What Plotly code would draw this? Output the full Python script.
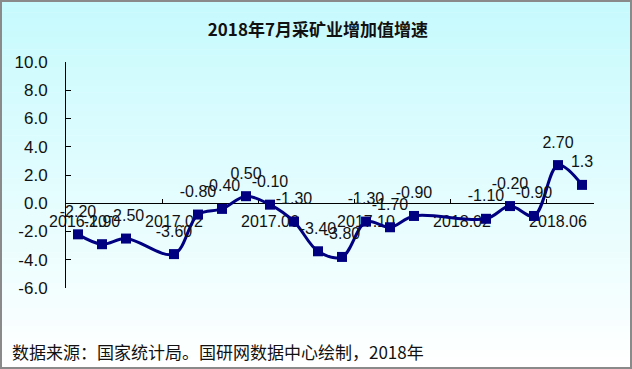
import plotly.graph_objects as go

# ---- data ----
months = ["2016.10", "2016.11", "2016.12", "2017.01", "2017.02", "2017.03", "2017.04",
          "2017.05", "2017.06", "2017.07", "2017.08", "2017.09", "2017.10", "2017.11",
          "2017.12", "2018.01", "2018.02", "2018.03", "2018.04", "2018.05", "2018.06",
          "2018.07"]
growth = [-2.2, -2.9, -2.5, None, -3.6, -0.8, -0.4, 0.5, -0.1, -1.3, -3.4, -3.8, -1.3,
          -1.7, -0.9, None, None, -1.1, -0.2, -0.9, 2.7, 1.3]
value_labels = ["-2.20", "-2.90", "-2.50", "", "-3.60", "-0.80", "-0.40", "0.50", "-0.10",
                "-1.30", "-3.40", "-3.80", "-1.30", "-1.70", "-0.90", "", "", "-1.10",
                "-0.20", "-0.90", "2.70", "1.3"]
y_ticks = [-6, -4, -2, 0, 2, 4, 6, 8, 10]
y_tick_text = ["-6.0", "-4.0", "-2.0", "0.0", "2.0", "4.0", "6.0", "8.0", "10.0"]
title_text = "2018年7月采矿业增加值增速"
source_text = "数据来源：国家统计局。国研网数据中心绘制，2018年"

# ---- geometry (pixels) ----
W, H = 632, 369
L, R, T, B = 66, 38, 62, 81
PW, PH = W - L - R, H - T - B


def px_x(px):
    return (px - L) / PW


def px_y(py):
    return (H - B - py) / PH


fig = go.Figure()
fig.add_trace(go.Scatter(
    x=months, y=growth, mode="lines+markers", connectgaps=True,
    line=dict(color="#000080", width=3, shape="spline", smoothing=1),
    marker=dict(symbol="square", size=10, color="#000080"),
    hoverinfo="x+y", showlegend=False, cliponaxis=False,
))
# data labels (invisible marker used to push the text above the point)
fig.add_trace(go.Scatter(
    x=months, y=growth, mode="markers+text", text=value_labels,
    textposition="top center",
    textfont=dict(family="Liberation Sans, Arial", size=16, color="#111111"),
    marker=dict(size=20, color="rgba(0,0,0,0)"),
    hoverinfo="skip", showlegend=False, cliponaxis=False,
))

annotations = [dict(x=px_x(10), y=px_y(351), xref="paper", yref="paper",
                    xanchor="left", yanchor="middle", showarrow=False,
                    text=source_text,
                    font=dict(family="Noto Sans CJK SC", size=17, color="#111111"))]

# background gradient bands
shapes = []
n = 60
top_c = (198, 250, 253)
bot_c = (255, 255, 255)
for i in range(n):
    y0p = H * i / n
    y1p = H * (i + 1) / n
    f = (i + 0.5) / n
    c = tuple(int(round(top_c[k] + (bot_c[k] - top_c[k]) * f)) for k in range(3))
    shapes.append(dict(type="rect", xref="paper", yref="paper", layer="below",
                       x0=px_x(0), x1=px_x(W), y0=px_y(y1p + 0.5), y1=px_y(y0p),
                       line=dict(width=0), fillcolor="rgb(%d,%d,%d)" % c))
shapes.append(dict(type="rect", xref="paper", yref="paper", layer="above",
                   x0=px_x(1), x1=px_x(W - 1), y0=px_y(H - 1), y1=px_y(1),
                   line=dict(color="#8a8a8a", width=2), fillcolor="rgba(0,0,0,0)"))

fig.update_layout(
    width=W, height=H,
    margin=dict(l=L, r=R, t=T, b=B, pad=0, autoexpand=False),
    paper_bgcolor="white", plot_bgcolor="rgba(0,0,0,0)",
    title=dict(text="<b>" + title_text + "</b>", x=0.503, xref="container",
               y=1 - 30 / H, yref="container", xanchor="center", yanchor="middle",
               font=dict(family="Noto Sans CJK SC", size=17, color="#111111")),
    shapes=shapes, annotations=annotations,
    xaxis=dict(type="category", categoryorder="array", categoryarray=months,
               range=[-0.5, len(months) - 0.5], anchor="free", position=6 / 16,
               showline=True, linecolor="black", linewidth=1, showgrid=False,
               zeroline=False, ticks="inside", ticklen=4, tickcolor="black",
               tickson="boundaries", tick0=0, dtick=4, tickangle=0,
               layer="below traces", automargin=False,
               tickfont=dict(family="Liberation Sans, Arial", size=16, color="#111111"),
               ticklabelstandoff=4, fixedrange=True),
    yaxis=dict(range=[-6, 10], tickvals=y_ticks, ticktext=y_tick_text,
               showline=True, linecolor="black", linewidth=1, showgrid=False,
               zeroline=False, ticks="inside", ticklen=5, tickcolor="black",
               automargin=False,
               tickfont=dict(family="Liberation Sans, Arial", size=17, color="#111111"),
               ticklabelstandoff=14, fixedrange=True),
)

fig.write_html("out.html", config={"displayModeBar": False},
               post_script="document.body.style.margin='0';document.body.style.padding='0';")
